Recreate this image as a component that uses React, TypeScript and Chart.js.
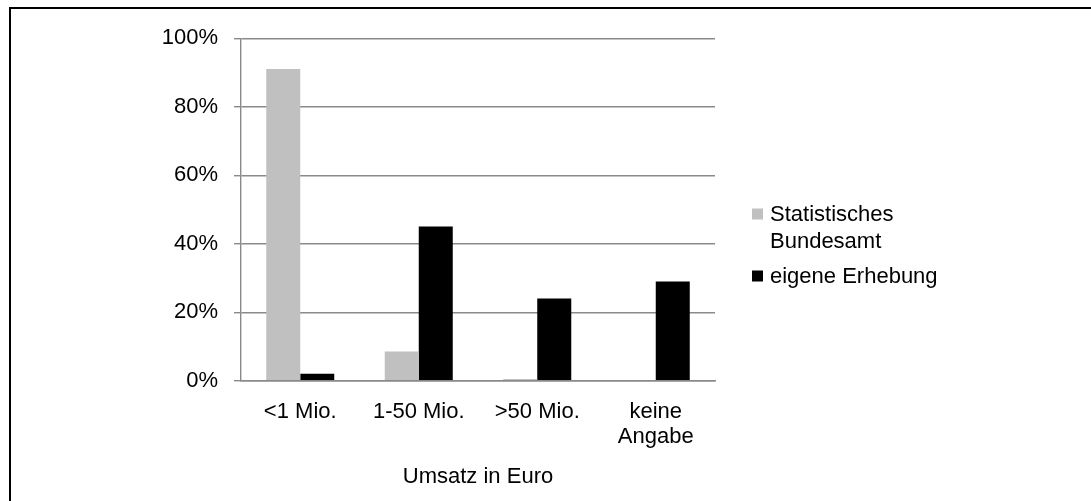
import React, { useEffect, useRef } from "react";
import { Chart, registerables } from "chart.js";

Chart.register(...registerables);

// Umsatzklassen (x-axis categories); multi-line entries are arrays
const categories: (string | string[])[] = ["<1 Mio.", "1-50 Mio.", ">50 Mio.", ["keine", "Angabe"]];

// share of companies per revenue class, in percent
const statistischesBundesamt = [91, 8.5, 0.5, 0];
const eigeneErhebung = [2, 45, 24, 29];

const seriesLabels = ["Statistisches Bundesamt", "eigene Erhebung"];
const seriesColors = ["#c0c0c0", "#000000"];

const yTicks = { min: 0, max: 100, step: 20 };
const xTitle = "Umsatz in Euro";

const FONT = "'Liberation Sans', Arial, Helvetica, sans-serif";
const FONT_SIZE = 22;
const AXIS_GREY = "#8a8a8a";

// draws the legend to the right of the plot, wrapping long labels
const sideLegend = {
  id: "sideLegend",
  afterDraw(chart: any) {
    const { ctx, chartArea } = chart;
    const boxX = chartArea.right + 37;
    const textX = boxX + 18;
    const box = 11;
    const lineGap = 27;
    const itemGap = 35;
    const maxW = 170;
    let baseline = 212;
    ctx.save();
    ctx.font = `${FONT_SIZE}px ${FONT}`;
    ctx.textBaseline = "alphabetic";
    ctx.textAlign = "left";
    chart.data.datasets.forEach((ds: any) => {
      const words = String(ds.label).split(" ");
      const lines: string[] = [];
      let cur = "";
      words.forEach((w) => {
        const test = cur ? cur + " " + w : w;
        if (cur && ctx.measureText(test).width > maxW) {
          lines.push(cur);
          cur = w;
        } else {
          cur = test;
        }
      });
      if (cur) lines.push(cur);
      ctx.fillStyle = ds.backgroundColor;
      ctx.fillRect(boxX, baseline - 1.5 - box, box, box);
      ctx.fillStyle = "#000";
      lines.forEach((ln, i) => {
        ctx.fillText(ln, textX, baseline + i * lineGap);
      });
      baseline += (lines.length - 1) * lineGap + itemGap;
    });
    ctx.restore();
  },
};

export default function App() {
  const ref = useRef<HTMLCanvasElement | null>(null);

  useEffect(() => {
    if (!ref.current) return;
    Chart.defaults.font.family = FONT;
    Chart.defaults.font.size = FONT_SIZE;
    Chart.defaults.color = "#000";
    const chart = new Chart(ref.current, {
      type: "bar",
      data: {
        labels: categories,
        datasets: [
          {
            label: seriesLabels[0],
            data: statistischesBundesamt,
            backgroundColor: seriesColors[0],
          },
          {
            label: seriesLabels[1],
            data: eigeneErhebung,
            backgroundColor: seriesColors[1],
          },
        ],
      },
      options: {
        animation: false,
        responsive: false,
        devicePixelRatio: 1,
        layout: { padding: { left: 0, right: 376, top: 28.7, bottom: 0 } },
        plugins: {
          legend: { display: false },
          tooltip: { enabled: false },
        },
        datasets: {
          bar: { categoryPercentage: 0.574, barPercentage: 1 },
        },
        scales: {
          x: {
            grid: { display: false, drawTicks: false },
            border: { display: true, color: AXIS_GREY, width: 1.4 },
            ticks: {
              padding: 19,
              font: { size: FONT_SIZE, lineHeight: 1.14 },
              maxRotation: 0,
              autoSkip: false,
            },
            title: {
              display: true,
              text: xTitle,
              font: { size: FONT_SIZE, lineHeight: 1.14 },
              padding: { top: 0, bottom: 11.5 },
            },
            afterFit(scale: any) {
              scale.height = 120.3;
            },
          },
          y: {
            min: yTicks.min,
            max: yTicks.max,
            grid: { color: AXIS_GREY, lineWidth: 1.4, tickLength: 7, drawTicks: true },
            border: { display: true, color: AXIS_GREY, width: 1.4 },
            ticks: {
              stepSize: yTicks.step,
              padding: 16,
              callback: (v: any) => `${v}%`,
            },
            afterFit(scale: any) {
              scale.width = 230;
            },
          },
        },
      },
      plugins: [sideLegend],
    });
    return () => chart.destroy();
  }, []);

  return (
    <div
      style={{
        position: "fixed",
        left: 9,
        top: 7,
        width: 1082,
        height: 494,
        boxSizing: "border-box",
        borderLeft: "2px solid #000",
        borderTop: "2px solid #000",
        background: "#fff",
      }}
    >
      <canvas ref={ref} width={1080} height={492} style={{ display: "block" }} />
    </div>
  );
}
